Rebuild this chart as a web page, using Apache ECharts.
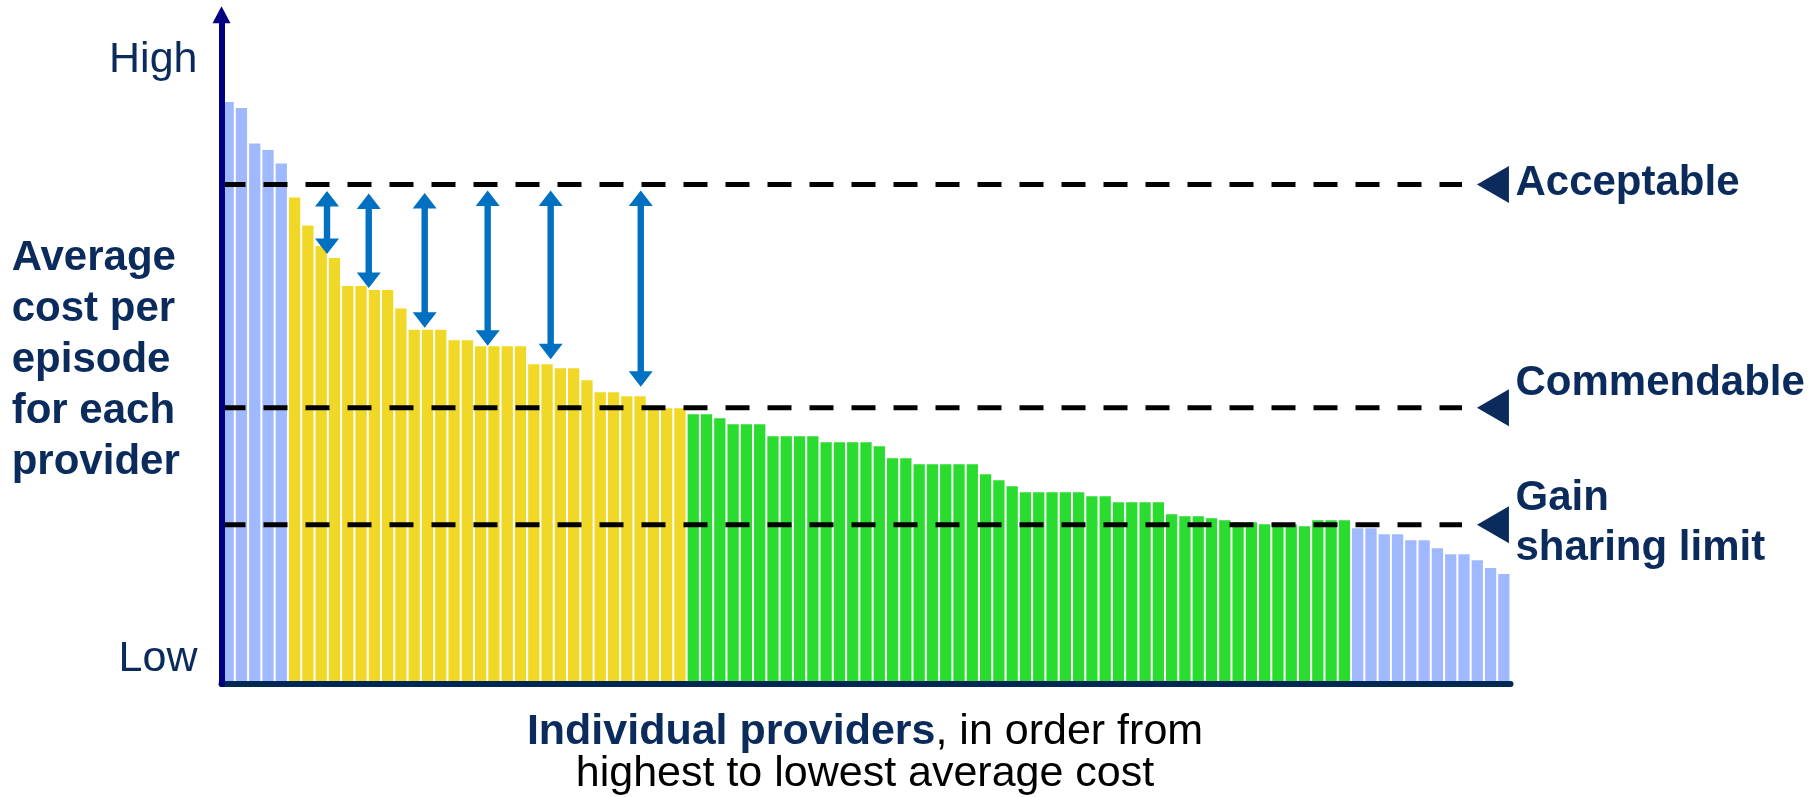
<!DOCTYPE html>
<html>
<head>
<meta charset="utf-8">
<title>Average cost per episode for each provider</title>
<script src="https://cdn.jsdelivr.net/npm/echarts@6/dist/echarts.min.js"></script>
<style>
  html, body { margin: 0; padding: 0; background: #ffffff; }
  #chart { width: 1815px; height: 797px; }
</style>
</head>
<body>
<div id="chart"></div>
<script>
// Average cost per episode (relative scale, "Acceptable" threshold = 100),
// providers sorted from highest to lowest cost, grouped by band.
const highOutliers = [116.5, 115.3, 108.2, 106.9, 104.2];
const acceptableBand = [
  97.4, 91.8, 87.7, 85.3, 79.7, 79.7, 78.9, 78.9, 75.2, 70.9,
  70.9, 70.9, 68.8, 68.8, 67.6, 67.6, 67.6, 67.6, 64.0, 64.0,
  63.2, 63.2, 60.8, 58.4, 58.4, 57.6, 57.6, 55.2, 55.2, 55.2
];
const commendableBand = [
  54.0, 54.0, 53.2, 52.0, 52.0, 52.0, 49.6, 49.6, 49.6, 49.6,
  48.4, 48.4, 48.4, 48.4, 47.6, 45.2, 45.2, 44.0, 44.0, 44.0,
  44.0, 44.0, 42.0, 40.8, 39.6, 38.4, 38.4, 38.4, 38.4, 38.4,
  37.6, 37.6, 36.4, 36.4, 36.4, 36.4, 34.0, 33.6, 33.6, 33.2,
  32.8, 32.4, 32.4, 32.0, 32.0, 32.0, 31.6, 32.8, 32.8, 32.8
];
const lowOutliers = [31.2, 31.2, 30.0, 30.0, 28.8, 28.8, 27.2, 26.0, 26.0, 24.8, 23.2, 22.0];

// Threshold levels and their names
const thresholdValues = [100, 55.3, 31.9];
const thresholdNames = ['Acceptable', 'Commendable', 'Gain\nsharing limit'];

// Double-headed arrows: position along the provider ranking, and the span they cover
const arrowAt = [7.94, 11.08, 15.29, 20.03, 24.77, 31.55];
const arrowTop = [98.7, 98.2, 98.3, 98.8, 98.8, 98.8];
const arrowBottom = [86.1, 79.3, 71.3, 67.7, 65.0, 59.5];

// Axis end labels
const yTickLabels = { 5: 'Low', 125: 'High' };

const NAVY = '#0a2b5c';
const FONT = '"Liberation Sans", Arial, sans-serif';
const groups = [
  { values: highOutliers, color: '#a0b9fe' },
  { values: acceptableBand, color: '#f1d826' },
  { values: commendableBand, color: '#2adc2f' },
  { values: lowOutliers, color: '#a0b9fe' }
];

const barData = [];
groups.forEach(g => g.values.forEach(v => barData.push({ value: v, itemStyle: { color: g.color } })));
const providers = barData.map((_, i) => 'Provider ' + (i + 1));
const nProviders = providers.length;

const lineEnd = 93.35;     // dashed guides stop short of the pointers
const pointerAt = 95.68;   // where the level pointers sit

const chart = echarts.init(document.getElementById('chart'), null, { renderer: 'canvas' });

const lineSeries = thresholdValues.map((v, i) => ({
  type: 'line',
  name: thresholdNames[i],
  xAxisIndex: 1,
  yAxisIndex: 0,
  data: [[0, v], [lineEnd, v]],
  symbol: 'none',
  silent: true,
  z: 3,
  lineStyle: { color: '#000000', width: 5, type: [24, 18], cap: 'butt' }
}));

const labelOffsets = [[0, -1], [0, -24.5], [0, -1]];

const option = {
  animation: false,
  backgroundColor: '#ffffff',
  grid: { left: 221.5, right: 304.5, top: 14.7, bottom: 113, containLabel: false },
  xAxis: [
    {
      type: 'category',
      data: providers,
      z: 10,
      boundaryGap: true,
      axisLine: { show: true, lineStyle: { color: '#002855', width: 6, cap: 'round' } },
      axisTick: { show: false },
      axisLabel: { show: false },
      splitLine: { show: false }
    },
    {
      type: 'value',
      min: 0,
      max: nProviders,
      show: false,
      splitLine: { show: false }
    }
  ],
  yAxis: {
    type: 'value',
    min: 0,
    max: 134,
    interval: 5,
    z: 11,
    axisLine: {
      show: true,
      symbol: ['none', 'triangle'],
      symbolSize: [18, 17],
      lineStyle: { color: '#000080', width: 6 }
    },
    axisTick: { show: false },
    splitLine: { show: false },
    axisLabel: {
      margin: 24,
      color: NAVY,
      fontFamily: FONT,
      fontSize: 43,
      formatter: v => yTickLabels[v] || ''
    }
  },
  series: [
    {
      type: 'bar',
      name: 'Average cost',
      data: barData,
      barCategoryGap: '15%',
      silent: true,
      z: 2
    },
    ...lineSeries,
    {
      type: 'scatter',
      name: 'Levels',
      xAxisIndex: 1,
      yAxisIndex: 0,
      silent: true,
      z: 4,
      symbol: 'path://M32,0L0,18.5L32,37Z',
      symbolSize: [32, 37],
      itemStyle: { color: NAVY, opacity: 1 },
      data: thresholdValues.map((v, i) => ({
        value: [pointerAt, v],
        label: {
          show: true,
          position: 'right',
          distance: 6.5,
          offset: labelOffsets[i],
          formatter: thresholdNames[i],
          color: NAVY,
          fontFamily: FONT,
          fontWeight: 'bold',
          fontSize: 42,
          lineHeight: 50,
          align: 'left'
        }
      }))
    },
    {
      type: 'custom',
      name: 'Gap to acceptable',
      xAxisIndex: 1,
      yAxisIndex: 0,
      silent: true,
      z: 5,
      data: arrowAt.map((x, i) => [x, arrowTop[i], arrowBottom[i]]),
      renderItem: function (params, api) {
        const p1 = api.coord([api.value(0), api.value(1)]);
        const p2 = api.coord([api.value(0), api.value(2)]);
        const cx = p1[0], y1 = p1[1], y2 = p2[1];
        const hw = 12, sw = 3.2, hl = 15.5;
        return {
          type: 'polygon',
          shape: {
            points: [
              [cx, y1], [cx + hw, y1 + hl], [cx + sw, y1 + hl],
              [cx + sw, y2 - hl], [cx + hw, y2 - hl], [cx, y2],
              [cx - hw, y2 - hl], [cx - sw, y2 - hl], [cx - sw, y1 + hl],
              [cx - hw, y1 + hl]
            ]
          },
          style: { fill: '#0070c0' }
        };
      }
    }
  ],
  graphic: [
    {
      type: 'text',
      left: 11.7,
      top: 233,
      silent: true,
      style: {
        text: 'Average\ncost per\nepisode\nfor each\nprovider',
        font: 'bold 42px ' + FONT,
        fill: NAVY,
        lineHeight: 51
      }
    },
    {
      type: 'text',
      x: 865,
      y: 711.5,
      silent: true,
      style: {
        text: '{b|Individual providers}{n|, in order from}\n{n|highest to lowest average cost}',
        align: 'center',
        verticalAlign: 'top',
        lineHeight: 42,
        rich: {
          b: { font: 'bold 43px ' + FONT, fill: NAVY, lineHeight: 42 },
          n: { font: '43px ' + FONT, fill: '#000000', lineHeight: 42 }
        }
      }
    }
  ]
};

chart.setOption(option);
</script>
</body>
</html>
